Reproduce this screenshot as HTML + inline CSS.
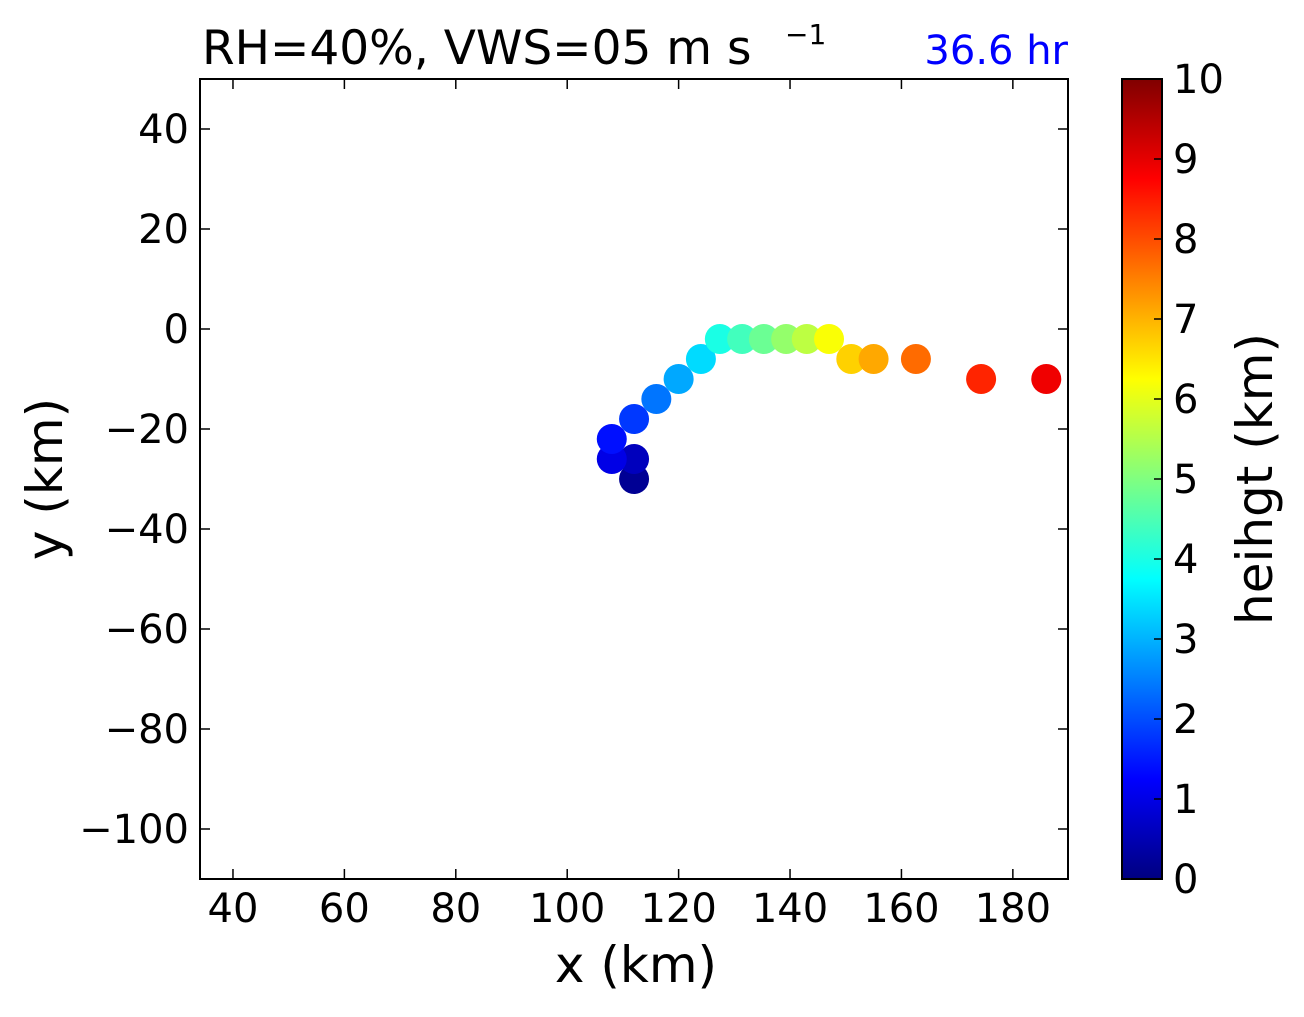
<!DOCTYPE html>
<html><head><meta charset="utf-8"><style>
html,body{margin:0;padding:0;background:#fff;}
svg text{font-family:"DejaVu Sans","Liberation Sans",sans-serif;}
</style></head><body>
<svg id="chart" width="1304" height="1012" xmlns="http://www.w3.org/2000/svg">
<defs>
<linearGradient id="jet" x1="0" y1="1" x2="0" y2="0"></linearGradient>
</defs>
<g id="plot"></g>
</svg>
<script>
const xs = [112,112,108,108,112,116,120,124,127.4,131.4,135.3,139.3,143,147,151,155,162.6,174.3,186];
const ys = [-30,-26,-26,-22,-18,-14,-10,-6,-2,-2,-2,-2,-2,-2,-6,-6,-6,-10,-10];
const hs = [0.2,0.6,1.0,1.4,1.8,2.4,2.9,3.4,4.0,4.4,4.8,5.2,5.6,6.2,6.7,7.1,7.7,8.4,8.9];
const xTicks = [40,60,80,100,120,140,160,180];
const yTicks = [40,20,0,-20,-40,-60,-80,-100];
const cTicks = [0,1,2,3,4,5,6,7,8,9,10];

const L=200,R=1068,T=79,B=879;
const X0=34.08,X1=189.9,Y0=-110,Y1=50;
const sx=v=>L+(v-X0)/(X1-X0)*(R-L);
const sy=v=>B-(v-Y0)/(Y1-Y0)*(B-T);
const NS="http://www.w3.org/2000/svg";
const g=document.getElementById('plot');
function mk(t,a,txt){const e=document.createElementNS(NS,t);for(const k in a)e.setAttribute(k,a[k]);if(txt!==undefined)e.textContent=txt;g.appendChild(e);return e;}
function jet(v){v=Math.max(0,Math.min(1,v));
 const r=Math.min(4*v-1.5,-4*v+4.5),gg=Math.min(4*v-0.5,-4*v+3.5),b=Math.min(4*v+0.5,-4*v+2.5);
 const c=x=>Math.round(255*Math.max(0,Math.min(1,x)));return `rgb(${c(r)},${c(gg)},${c(b)})`;}
const grad=document.getElementById('jet');
for(let i=0;i<=40;i++){const s=document.createElementNS(NS,'stop');s.setAttribute('offset',i/40);s.setAttribute('stop-color',jet(i/40));grad.appendChild(s);}

let e=mk('rect',{x:L,y:T,width:R-L,height:B-T,fill:'none',stroke:'#000','stroke-width':2});


xTicks.forEach(v=>{const x=sx(v);
 let t=mk('line',{x1:x,y1:B,x2:x,y2:B-10,stroke:'#000','stroke-width':1.5});
 
 t=mk('line',{x1:x,y1:T,x2:x,y2:T+10,stroke:'#000','stroke-width':1.5});
 
 t=mk('text',{x:x,y:922,'font-size':40,'text-anchor':'middle'},String(v));
 
});
yTicks.forEach(v=>{const y=sy(v);
 let t=mk('line',{x1:L,y1:y,x2:L+10,y2:y,stroke:'#000','stroke-width':1.5});
 
 t=mk('line',{x1:R,y1:y,x2:R-10,y2:y,stroke:'#000','stroke-width':1.5});
 
 t=mk('text',{x:189,y:y+14,'font-size':40,'text-anchor':'end'},v<0?'\u2212'+(-v):String(v));
 
});

xs.forEach((v,i)=>{
 const c=mk('circle',{cx:sx(v),cy:sy(ys[i]),r:15,fill:jet(hs[i]/10)});
 
 
});

e=mk('text',{x:636,y:982,'font-size':50,'text-anchor':'middle'},'x (km)');

e=mk('text',{x:62,y:479,'font-size':50,'text-anchor':'middle',transform:'rotate(-90 62 479)'},'y (km)');

e=mk('text',{x:202,y:64,'font-size':47},'RH=40%, VWS=05 m s');

e=mk('text',{x:785,y:44,'font-size':28},'\u22121');

e=mk('text',{x:1068,y:64,'font-size':40,'text-anchor':'end',fill:'#0000ff'},'36.6 hr');


const CL=1122,CR=1162;
e=mk('rect',{x:CL,y:T,width:CR-CL,height:B-T,fill:'url(#jet)',stroke:'#000','stroke-width':2});

cTicks.forEach(v=>{const y=B-v/10*(B-T);
 let t=mk('line',{x1:CR-8,y1:y,x2:CR,y2:y,stroke:'#000','stroke-width':1.5});
 
 t=mk('text',{x:1173,y:y+14,'font-size':40},String(v));
 
});
e=mk('text',{x:1272,y:479,'font-size':50,'text-anchor':'middle',transform:'rotate(-90 1272 479)'},'heihgt (km)');

</script>
</body></html>
